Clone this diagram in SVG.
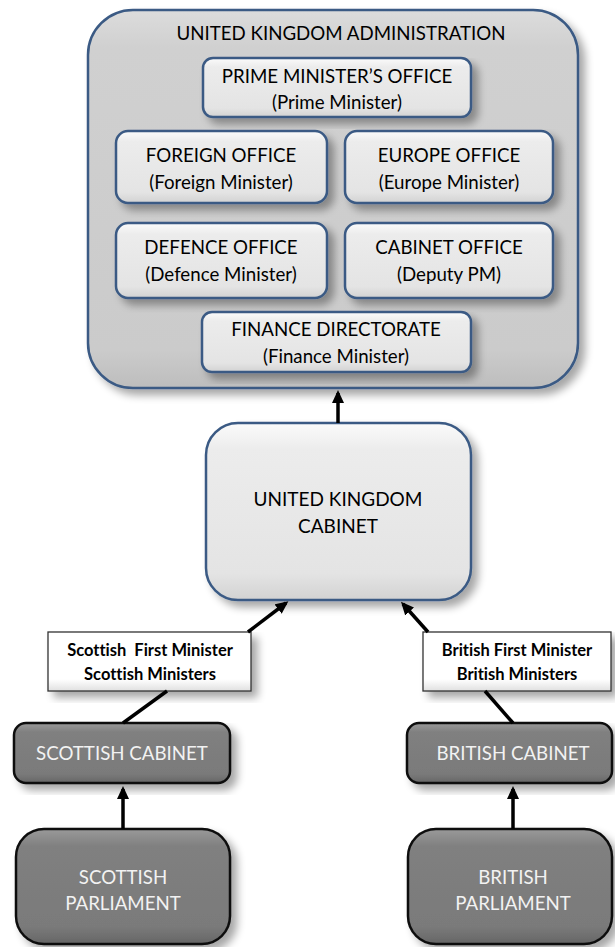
<svg xmlns="http://www.w3.org/2000/svg" width="615" height="947" viewBox="0 0 615 947">
<defs>
<linearGradient id="gLight" x1="0" y1="0" x2="0" y2="1">
<stop offset="0" stop-color="#fbfbfb"/><stop offset="0.15" stop-color="#ececec"/><stop offset="0.85" stop-color="#e4e4e4"/><stop offset="1" stop-color="#d2d2d2"/>
</linearGradient>
<linearGradient id="gOuter" x1="0" y1="0" x2="0" y2="1">
<stop offset="0" stop-color="#dcdcdc"/><stop offset="0.1" stop-color="#d0d0d0"/><stop offset="0.9" stop-color="#cbcbcb"/><stop offset="1" stop-color="#bdbdbd"/>
</linearGradient>
<linearGradient id="gDark" x1="0" y1="0" x2="0" y2="1">
<stop offset="0" stop-color="#9a9a9a"/><stop offset="0.15" stop-color="#808080"/><stop offset="0.85" stop-color="#7a7a7a"/><stop offset="1" stop-color="#666"/>
</linearGradient>
<linearGradient id="gLabel" x1="0" y1="0" x2="0" y2="1">
<stop offset="0" stop-color="#ffffff"/><stop offset="0.8" stop-color="#ffffff"/><stop offset="1" stop-color="#e0e0e0"/>
</linearGradient>
<filter id="sh" x="-10%" y="-10%" width="130%" height="130%">
<feGaussianBlur in="SourceAlpha" stdDeviation="4"/>
<feOffset dx="6" dy="6" result="b"/>
<feComponentTransfer><feFuncA type="linear" slope="0.35"/></feComponentTransfer>
<feMerge><feMergeNode/><feMergeNode in="SourceGraphic"/></feMerge>
</filter>
<marker id="ah" markerWidth="14" markerHeight="12" refX="10" refY="6" orient="auto" markerUnits="userSpaceOnUse">
<path d="M0,0 L13,6 L0,12 Z" fill="#000"/>
</marker>
</defs>
<style>
.blue{fill:url(#gLight);stroke:#3a5a84;stroke-width:2.5;filter:url(#sh)}
.outer{fill:url(#gOuter);stroke:#3a5a84;stroke-width:2.5;filter:url(#sh)}
.dark{fill:url(#gDark);stroke:#111;stroke-width:2.5;filter:url(#sh)}
.lab{fill:url(#gLabel);stroke:#333;stroke-width:1.3;filter:url(#sh)}
text{font-family:Lato,"Liberation Sans",sans-serif;text-anchor:middle;font-variant-ligatures:none;white-space:pre}
.t{font-size:18.7px;fill:#000}
.w{font-size:18.7px;fill:#f2f2f2}
.big{font-size:19px}
.b{font-size:16.5px;font-weight:bold;fill:#000}
.c{stroke:#000;stroke-width:3.5;fill:none}
</style>
<g id="uk-administration">
<rect class="outer" x="88" y="10" width="490" height="378" rx="45"/>
<text class="t" x="341" y="40">UNITED KINGDOM ADMINISTRATION</text>
</g>
<g id="pm-office">
<rect class="blue" x="203" y="58" width="268" height="59" rx="10"/>
<text class="t" x="337" y="83">PRIME MINISTER’S OFFICE</text>
<text class="t" x="337" y="109">(Prime Minister)</text>
</g>
<g id="foreign-office">
<rect class="blue" x="116" y="131" width="211" height="72" rx="12"/>
<text class="t" x="221" y="162">FOREIGN OFFICE</text>
<text class="t" x="221" y="189">(Foreign Minister)</text>
</g>
<g id="europe-office">
<rect class="blue" x="345" y="131" width="208" height="72" rx="12"/>
<text class="t" x="449" y="162">EUROPE OFFICE</text>
<text class="t" x="449" y="189">(Europe Minister)</text>
</g>
<g id="defence-office">
<rect class="blue" x="116" y="223" width="211" height="75" rx="12"/>
<text class="t" x="221" y="254">DEFENCE OFFICE</text>
<text class="t" x="221" y="281">(Defence Minister)</text>
</g>
<g id="cabinet-office">
<rect class="blue" x="345" y="223" width="208" height="75" rx="12"/>
<text class="t" x="449" y="254">CABINET OFFICE</text>
<text class="t" x="449" y="281">(Deputy PM)</text>
</g>
<g id="finance-directorate">
<rect class="blue" x="202" y="312" width="269" height="60" rx="10"/>
<text class="t" x="336" y="336">FINANCE DIRECTORATE</text>
<text class="t" x="336" y="363">(Finance Minister)</text>
</g>
<g id="uk-cabinet">
<rect class="blue" x="206" y="423" width="265" height="177" rx="32"/>
<text class="t big" x="338" y="506">UNITED KINGDOM</text>
<text class="t big" x="338" y="533">CABINET</text>
</g>
<g id="scottish-ministers">
<rect class="lab" x="48" y="632" width="203" height="59"/>
<text class="b" x="150" y="656" xml:space="preserve">Scottish  First Minister</text>
<text class="b" x="150" y="680">Scottish Ministers</text>
</g>
<g id="british-ministers">
<rect class="lab" x="423" y="632" width="188" height="59"/>
<text class="b" x="517" y="656">British First Minister</text>
<text class="b" x="517" y="680">British Ministers</text>
</g>
<g id="scottish-cabinet">
<rect class="dark" x="14" y="723" width="216" height="60" rx="12"/>
<text class="w" x="122" y="760">SCOTTISH CABINET</text>
</g>
<g id="british-cabinet">
<rect class="dark" x="407" y="723" width="205" height="60" rx="12"/>
<text class="w" x="513" y="760">BRITISH CABINET</text>
</g>
<g id="scottish-parliament">
<rect class="dark" x="16" y="829" width="214" height="115" rx="28"/>
<text class="w" x="123" y="884">SCOTTISH</text>
<text class="w" x="123" y="910">PARLIAMENT</text>
</g>
<g id="british-parliament">
<rect class="dark" x="408" y="829" width="204" height="115" rx="28"/>
<text class="w" x="513" y="884">BRITISH</text>
<text class="w" x="513" y="910">PARLIAMENT</text>
</g>
<g id="connectors">
<line class="c" x1="338" y1="423" x2="338" y2="393" marker-end="url(#ah)"/>
<line class="c" x1="248" y1="632" x2="286" y2="603" marker-end="url(#ah)"/>
<line class="c" x1="428" y1="632" x2="403" y2="604" marker-end="url(#ah)"/>
<line class="c" x1="123" y1="723" x2="167" y2="691"/>
<line class="c" x1="513" y1="723" x2="485" y2="691"/>
<line class="c" x1="123" y1="829" x2="123" y2="789" marker-end="url(#ah)"/>
<line class="c" x1="513" y1="829" x2="513" y2="789" marker-end="url(#ah)"/>
</g>
</svg>
